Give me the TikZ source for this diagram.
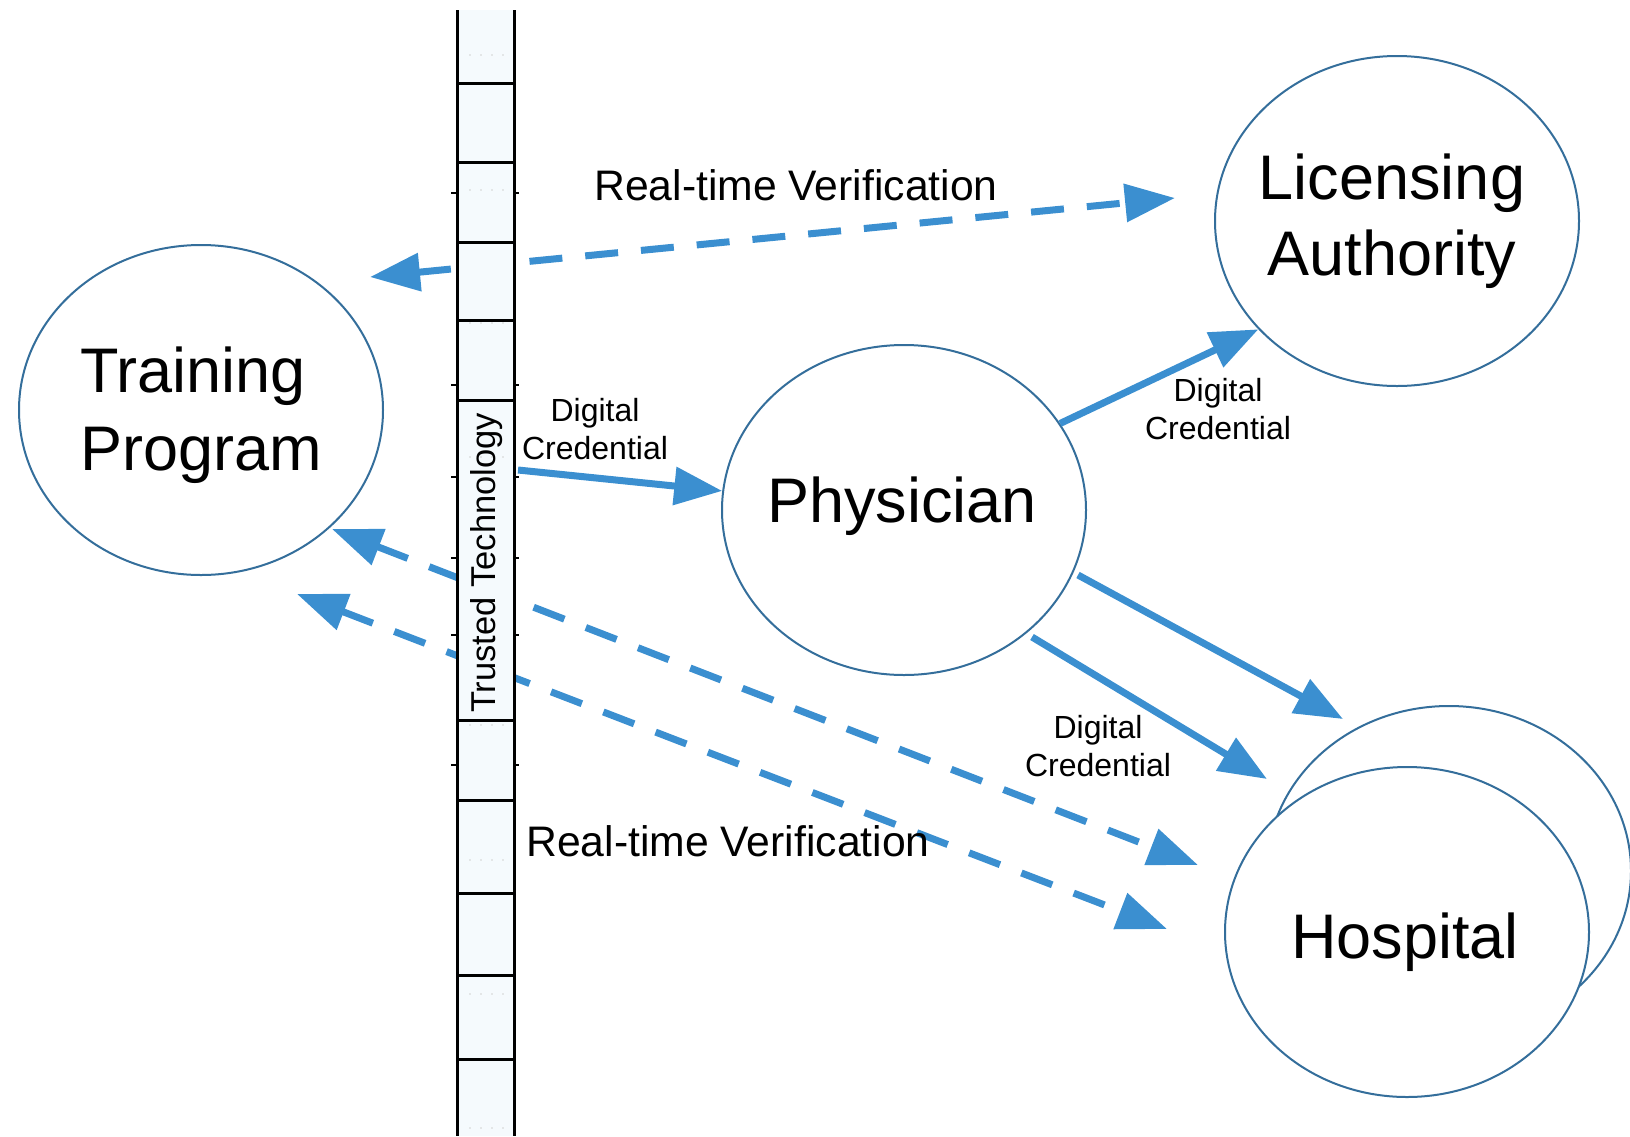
\documentclass[tikz,border=0pt]{standalone}
\usepackage{fontspec}
\setmainfont{Liberation Sans}
\usetikzlibrary{arrows.meta,shapes.geometric}
\definecolor{arrowblue}{RGB}{59,143,208}
\definecolor{ringblue}{RGB}{52,110,155}
\definecolor{barfill}{RGB}{245,250,253}
\begin{document}
\begin{tikzpicture}[x=1pt,y=-1pt,
  ring/.style={draw=ringblue,line width=2pt,ellipse,minimum width=364pt,minimum height=330pt,fill=white,inner sep=0pt},
  bigtext/.style={font=\fontsize{63}{78}\selectfont,inner sep=0pt},
  smalltext/.style={font=\fontsize{32}{38}\selectfont,inner sep=0pt,anchor=base},
  midtext/.style={font=\fontsize{42.7}{50}\selectfont,inner sep=0pt,anchor=base},
  solidarrow/.style={draw=arrowblue,line width=7pt,-{Triangle[length=48pt,width=37pt]}},
  dasharrow/.style={draw=arrowblue,line width=7pt,{Triangle[length=50pt,width=37pt]}-{Triangle[length=50pt,width=37pt]},dash pattern=on 33pt off 23pt},
  barline/.style={line width=3pt,black},
  tick/.style={line width=1.6pt,black}
]
\useasboundingbox (0,0) rectangle (1630,1136);

% ellipses
\node[ring] (tp) at (201,410) {};
\node[ring] (lic) at (1397,221) {};
\node[ring] (phys) at (904,510) {};
\node[ring] (hospback) at (1449,871) {};
\node[ring] (hosp) at (1407,932) {};

% texts in ellipses
\node[bigtext,anchor=base west] (tp1) at (80,392) {Training};
\node[bigtext,anchor=base west] (tp2) at (80,470) {Program};
\node[bigtext,anchor=base] (lic1) at (1392,199) {Licensing};
\node[bigtext,anchor=base] (lic2) at (1392,275) {Authority};
\node[bigtext,anchor=base] (phys1) at (902,522) {Physician};
\node[bigtext,anchor=base] (hosp1) at (1405,958) {Hospital};

% connector end points
\coordinate (dcstart) at (518,470);
\coordinate (topL) at (370,277);
\coordinate (topR) at (1175,198);
\coordinate (midL) at (332,529);
\coordinate (midR) at (1198,865);
\coordinate (lowL) at (297,594);
\coordinate (lowR) at (1167,929);
\coordinate (hbS) at (1078,575);
\coordinate (hbE) at (1343,719);
\coordinate (hfS) at (1032,637);
\coordinate (hfE) at (1267,779);

% arrows
\draw[dasharrow] (topL) -- (topR);
\draw[dasharrow] (midL) -- (midR);
\draw[dasharrow] (lowL) -- (lowR);
\draw[solidarrow] (dcstart) -- (phys.174.6);
\draw[solidarrow] (phys.29.5) -- (lic.218.4);
\draw[solidarrow] (hbS) -- (hbE);
\draw[solidarrow] (hfS) -- (hfE);

% labels
\node[midtext] (rtv1) at (796,200) {Real-time Verification};
\node[midtext] (rtv2) at (728,856) {Real-time Verification};
\node[smalltext] (dc1a) at (595,421) {Digital};
\node[smalltext] (dc1b) at (595,459) {Credential};
\node[smalltext] (dc2a) at (1218,401) {Digital};
\node[smalltext] (dc2b) at (1218,439) {Credential};
\node[smalltext] (dc3a) at (1098,738) {Digital};
\node[smalltext] (dc3b) at (1098,776) {Credential};

% trusted technology bar
\fill[barfill] (457,10) rectangle (514,1136);
\foreach \yy in {55,190,323,457,725,860,994,1128}
  \foreach \xx in {470,481,492,503}
    \fill[gray!35] (\xx,\yy) circle (0.9pt);
\draw[barline] (457,10) -- (457,1136);
\draw[barline] (514,10) -- (514,1136);
\foreach \yy in {83,162,242,320,400,720,800,893,975,1059}
  \draw[barline] (457,\yy) -- (514,\yy);
\foreach \yy in {193,385,477,558,635,765}
  {\draw[tick] (451,\yy) -- (457,\yy);
   \draw[tick] (514,\yy) -- (519,\yy);}
\node[font=\fontsize{34.5}{40}\selectfont,inner sep=0pt,anchor=base,rotate=90] (tt) at (495,563) {Trusted Technology};
\end{tikzpicture}
\end{document}
